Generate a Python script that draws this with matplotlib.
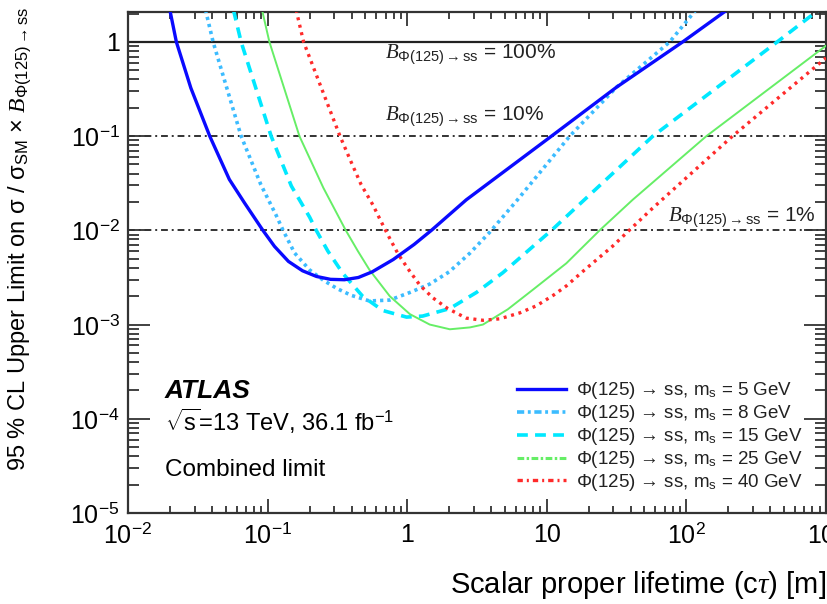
import numpy as np
import matplotlib
matplotlib.use("Agg")
import matplotlib.pyplot as plt
from matplotlib.lines import Line2D
from matplotlib.ticker import LogLocator, FixedLocator, FixedFormatter, NullFormatter

plt.rcParams['font.family'] = ['Liberation Sans', 'DejaVu Sans']
plt.rcParams['mathtext.fontset'] = 'custom'
plt.rcParams['mathtext.rm'] = 'Liberation Sans'
plt.rcParams['mathtext.sf'] = 'Liberation Sans'
plt.rcParams['mathtext.it'] = 'Liberation Serif:italic'
plt.rcParams['mathtext.bf'] = 'Liberation Sans:bold'

# 95% CL limits vs proper lifetime c*tau [m] for each scalar mass
ctau_5 = [0.0200, 0.0222, 0.0282, 0.0385, 0.0532, 0.0684, 0.0925, 0.112, 0.141, 0.178,
          0.224, 0.282, 0.355, 0.447, 0.562, 0.794, 1.12, 1.49, 2.65, 10.8,
          31.6, 94.0, 200.0]
lim_5 = [2.14, 1.0, 0.324, 0.100, 0.0347, 0.0195, 0.0100, 0.00676, 0.00468, 0.00372,
         0.00324, 0.00302, 0.00299, 0.00316, 0.00363, 0.00490, 0.00708, 0.0100, 0.0211, 0.100,
         0.331, 1.0, 2.24]

ctau_8 = [0.0359, 0.0407, 0.0646, 0.0895, 0.115, 0.129, 0.156, 0.200, 0.251, 0.316,
          0.398, 0.537, 0.750, 1.045, 1.45, 2.00, 2.82, 3.90, 6.05, 14.6,
          31.6, 75.9, 117.0]
lim_8 = [2.19, 1.0, 0.100, 0.0305, 0.0145, 0.0100, 0.00575, 0.00380, 0.00295, 0.00240,
         0.00204, 0.00178, 0.00182, 0.00219, 0.00269, 0.00363, 0.00575, 0.00955, 0.0204, 0.100,
         0.331, 1.0, 2.19]

ctau_15 = [0.0569, 0.0646, 0.106, 0.148, 0.200, 0.223, 0.270, 0.347, 0.479, 0.668,
           0.989, 1.29, 2.02, 3.13, 4.84, 10.8, 57.5, 447.0, 1000.0]
lim_15 = [2.19, 1.0, 0.100, 0.0295, 0.0138, 0.0100, 0.00603, 0.00347, 0.00200, 0.00141,
          0.00120, 0.00123, 0.00148, 0.00219, 0.00355, 0.0100, 0.100, 1.0, 2.51]

ctau_25 = [0.0912, 0.103, 0.169, 0.251, 0.363, 0.443, 0.537, 0.750, 1.045, 1.45,
           2.02, 2.82, 3.49, 5.25, 7.94, 13.8, 23.9, 41.2, 139.0, 1000.0]
lim_25 = [2.19, 1.0, 0.100, 0.0282, 0.0100, 0.00603, 0.00380, 0.00200, 0.00129, 0.00100,
          0.000891, 0.000933, 0.00100, 0.00145, 0.00234, 0.00447, 0.0100, 0.0211, 0.100, 0.912]

ctau_40 = [0.160, 0.181, 0.330, 0.398, 0.468, 0.568, 0.650, 0.746, 0.867, 1.045,
           1.23, 1.52, 1.95, 2.65, 3.49, 4.60, 6.40, 8.41, 11.1, 13.8,
           18.1, 29.5, 38.9, 57.3, 214.0, 871.0, 1000.0]
lim_40 = [2.19, 1.0, 0.100, 0.0525, 0.0305, 0.0186, 0.0124, 0.00832, 0.00550, 0.00366,
          0.00263, 0.00193, 0.00148, 0.00117, 0.00111, 0.00115, 0.00133, 0.00158, 0.00204, 0.00257,
          0.00366, 0.00676, 0.0100, 0.0172, 0.100, 0.570, 0.676]

# Reference branching-ratio levels
br_levels = [1.0, 0.1, 0.01]
br_labels = ['100%', '10%', '1%']

x_ticks = [1e-2, 1e-1, 1, 10, 1e2, 1e3]
x_ticklabels = [r'$10^{-2}$', r'$10^{-1}$', '1', '10', r'$10^{2}$', r'$10^{3}$']
y_ticks = [1e-5, 1e-4, 1e-3, 1e-2, 1e-1, 1]
y_ticklabels = [r'$10^{-5}$', r'$10^{-4}$', r'$10^{-3}$', r'$10^{-2}$', r'$10^{-1}$', '1']

mass_labels = ['5', '8', '15', '25', '40']

fig = plt.figure(figsize=(8.28, 6.04), dpi=100)
ax = fig.add_axes([0.1546, 0.1507, 0.8430, 0.8295])
ax.set_xscale('log')
ax.set_yscale('log')
ax.set_xlim(1e-2, 1e3)
ax.set_ylim(1e-5, 2.08)

c_blue = '#0a0aff'
c_sky = '#3cbcff'
c_cyan = '#00e8ff'
c_green = '#66ee66'
c_red = '#ff2a2a'

# Branching-ratio reference lines
ax.axhline(br_levels[0], color='#222222', lw=1.6, zorder=2)
for lvl in br_levels[1:]:
    ax.axhline(lvl, color='#333333', lw=1.4, linestyle=(0, (3.5, 2.0, 1.0, 2.0)), zorder=2)

ax.plot(ctau_5, lim_5, color=c_blue, lw=2.4, solid_joinstyle='round', zorder=5)
ax.plot(ctau_8, lim_8, color=c_sky, lw=2.6, linestyle=(0, (0.9, 1.1)), zorder=4)
ax.plot(ctau_15, lim_15, color=c_cyan, lw=2.6, linestyle=(0, (3.0, 2.0)), zorder=4)
ax.plot(ctau_25, lim_25, color=c_green, lw=1.4, solid_joinstyle='round', zorder=4)
ax.plot(ctau_40, lim_40, color=c_red, lw=2.4, linestyle=(0, (0.9, 1.4)), zorder=4)

# Axis ticks
ax.xaxis.set_major_locator(FixedLocator(x_ticks))
ax.xaxis.set_major_formatter(FixedFormatter(x_ticklabels))
ax.xaxis.set_minor_locator(LogLocator(base=10, subs=np.arange(2, 10), numticks=20))
ax.xaxis.set_minor_formatter(NullFormatter())
ax.yaxis.set_major_locator(FixedLocator(y_ticks))
ax.yaxis.set_major_formatter(FixedFormatter(y_ticklabels))
ax.yaxis.set_minor_locator(LogLocator(base=10, subs=np.arange(2, 10), numticks=20))
ax.yaxis.set_minor_formatter(NullFormatter())

ax.tick_params(axis='both', which='both', direction='in', top=True, right=True,
               color='#333333', width=1.3)
ax.tick_params(axis='x', which='major', length=10, labelsize=18, pad=7)
ax.tick_params(axis='x', which='minor', length=5)
ax.tick_params(axis='y', which='major', length=16, labelsize=18, pad=6)
ax.tick_params(axis='y', which='minor', length=8)
for sp in ax.spines.values():
    sp.set_linewidth(1.6)
    sp.set_color('#333333')

ax.set_xlabel(r'Scalar proper lifetime (c$\tau$) [m]', fontsize=21, loc='right',
              labelpad=15)
ax.set_ylabel(r'95 % CL Upper Limit on σ / σ$_{\mathrm{SM}}$ × $\mathit{B}_{\Phi(125)\rightarrow\mathrm{ss}}$',
              fontsize=17, loc='top')
ax.yaxis.set_label_coords(-0.136, 1.01)

# Branching-ratio annotations
br_pos = [(0.368, 0.906), (0.368, 0.783), (0.774, 0.581)]
for (tx, ty), lab in zip(br_pos, br_labels):
    ax.text(tx, ty, r'$\mathit{B}_{\Phi(125)\rightarrow\mathrm{ss}}$ = ' + lab,
            transform=ax.transAxes, fontsize=15, va='baseline', ha='left',
            color='#222222', zorder=6)

# Experiment labels
ax.text(0.053, 0.243, 'ATLAS', transform=ax.transAxes, fontsize=19,
        fontweight='bold', fontstyle='italic', va='center')
ax.text(0.053, 0.183, r'$\sqrt{\mathrm{s}}$=13 TeV, 36.1 fb$^{\mathrm{-1}}$',
        transform=ax.transAxes, fontsize=17, va='center')
ax.text(0.053, 0.085, 'Combined limit', transform=ax.transAxes, fontsize=17.5,
        va='center')

# Legend
handles = [
    Line2D([], [], color=c_blue, lw=2.4),
    Line2D([], [], color=c_sky, lw=2.6, linestyle=(0, (2.0, 1.0, 0.8, 1.0))),
    Line2D([], [], color=c_cyan, lw=2.6, linestyle=(0, (3.0, 2.0))),
    Line2D([], [], color=c_green, lw=2.2, linestyle=(0, (2.2, 0.8, 0.8, 0.8))),
    Line2D([], [], color=c_red, lw=2.4, linestyle=(0, (1.6, 1.2, 0.6, 1.2))),
]
labels = ['Φ(125) → ss, m$_{\\mathrm{s}}$ = ' + m + ' GeV' for m in mass_labels]
leg = ax.legend(handles, labels, loc='lower left', bbox_to_anchor=(0.547, 0.025),
                frameon=False, fontsize=13.5, handlelength=2.6, handletextpad=0.53,
                labelspacing=0.1, borderaxespad=0.0)
for t in leg.get_texts():
    t.set_color('#222222')

fig.savefig('out.png', dpi=100)
